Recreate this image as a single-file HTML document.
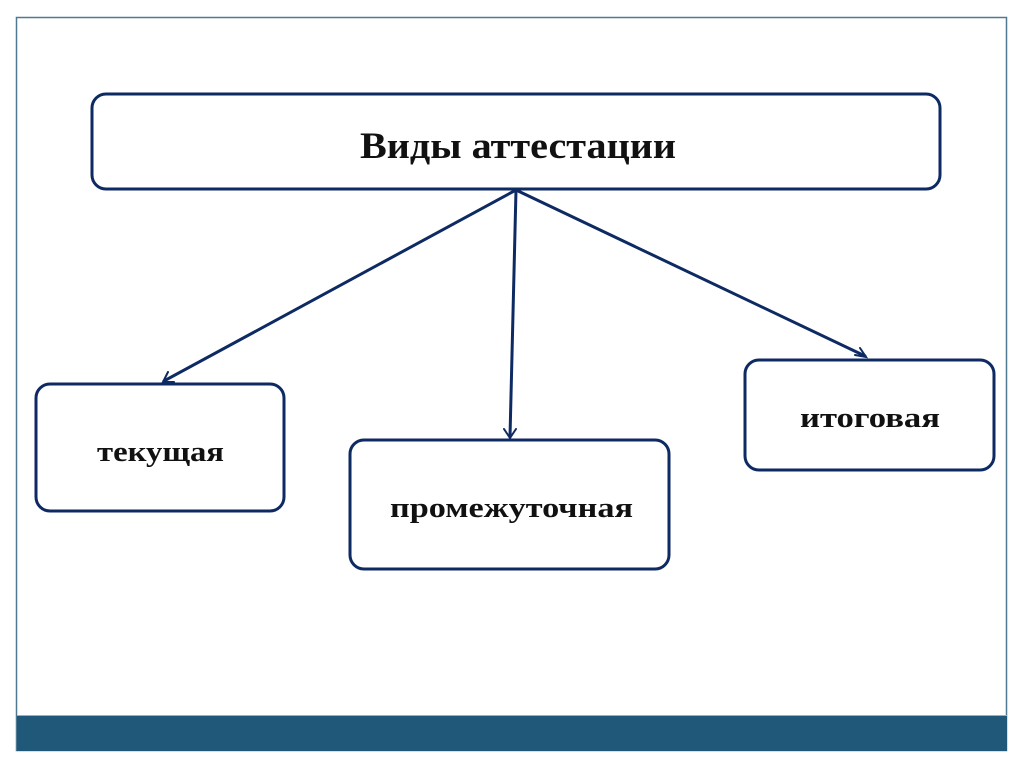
<!DOCTYPE html>
<html><head><meta charset="utf-8"><style>
html,body{margin:0;padding:0;background:#fff;}
</style></head><body>
<svg width="1024" height="768" xmlns="http://www.w3.org/2000/svg" style="display:block">
<rect x="0" y="0" width="1024" height="768" fill="#fff"/>
<rect x="16.5" y="17.5" width="990" height="733" fill="#fff" stroke="#4f7891" stroke-width="1.5"/>
<rect x="17" y="715" width="990" height="36" fill="#1f5879"/>
<line x1="17" y1="715.5" x2="1007" y2="715.5" stroke="#8fb3c8" stroke-width="1"/>
<g fill="none" stroke="#0d2a63" stroke-width="3">
<rect x="92" y="94" width="848" height="95" rx="14"/>
<rect x="36" y="384" width="248" height="127" rx="14"/>
<rect x="350" y="440" width="319" height="129" rx="14"/>
<rect x="745" y="360" width="249" height="110" rx="14"/>
</g>
<g stroke="#0d2a63" stroke-width="3" fill="none" stroke-linecap="round">
<line x1="516" y1="190" x2="164" y2="381"/>
<line x1="516" y1="190" x2="510" y2="437"/>
<line x1="516" y1="190" x2="865" y2="356"/>
<polyline points="168,372 163,382 174,382" stroke-width="2"/>
<polyline points="504,429 510,438 516,429" stroke-width="2"/>
<polyline points="855,355 866,357 860,348" stroke-width="2"/>
</g>
<g font-family="'Liberation Serif', serif" font-weight="bold" fill="#111">
<text x="360" y="158" font-size="37" textLength="316" lengthAdjust="spacingAndGlyphs">Виды аттестации</text>
<text x="97" y="461" font-size="29" textLength="127" lengthAdjust="spacingAndGlyphs">текущая</text>
<text x="390" y="517" font-size="29" textLength="243" lengthAdjust="spacingAndGlyphs">промежуточная</text>
<text x="800" y="427" font-size="29" textLength="140" lengthAdjust="spacingAndGlyphs">итоговая</text>
</g>
</svg>
</body></html>
